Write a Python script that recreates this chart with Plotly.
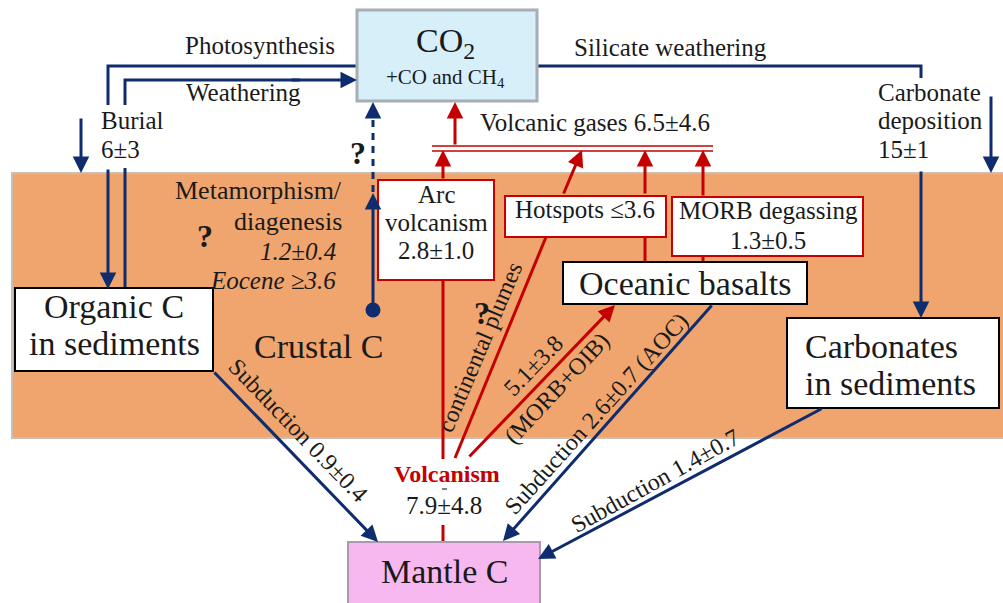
import plotly.graph_objects as go

# ---- diagram content (labels and flux values, Tg C / yr) ----
reservoirs = ["CO<sub>2</sub>", "+CO and CH<sub>4</sub>", "Organic C", "in sediments", "Crustal C",
              "Oceanic basalts", "Carbonates", "in sediments", "Mantle C"]
surface_fluxes = ["Photosynthesis", "Weathering", "Burial", "Silicate weathering", "Carbonate", "deposition"]
surface_values = ["6±3", "15±1"]
volcanic_names = ["Volcanic gases", "Arc", "volcanism", "Hotspots", "MORB degassing", "Volcanism"]
volcanic_values = ["6.5±4.6", "2.8±1.0", "≤3.6", "1.3±0.5", "7.9±4.8", "5.1±3.8"]
subduction_values = ["0.9±0.4", "2.6±0.7", "1.4±0.7"]
metamorphism_values = ["1.2±0.4", "≥3.6"]

NAVY = "#0E2C6E"
RED = "#C40000"
ORANGE = "#F0A56E"
SERIF = "Liberation Serif, Times New Roman, serif"
TXT = "#1a1a1a"

fig = go.Figure()
shapes = []
ann = []


def rect(x0, y0, x1, y1, fill, line, w, layer="above"):
    shapes.append(dict(type="rect", x0=x0, y0=y0, x1=x1, y1=y1, fillcolor=fill,
                       line=dict(color=line, width=w), layer=layer, xref="x", yref="y"))


def seg(pts, color, w=3, dash="solid"):
    path = "M " + " L ".join(f"{x},{y}" for x, y in pts)
    shapes.append(dict(type="path", path=path, line=dict(color=color, width=w, dash=dash),
                       xref="x", yref="y", layer="above"))


def arrow(x0, y0, x1, y1, color, w=3, size=1.1):
    ann.append(dict(x=x1, y=y1, ax=x0, ay=y0, xref="x", yref="y", axref="x", ayref="y",
                    text="", showarrow=True, arrowhead=2, arrowsize=size, arrowwidth=w,
                    arrowcolor=color, standoff=0, startstandoff=0))


def text(x, y, s, size=25, color=TXT, anchor="center", angle=0, bold=False, italic=False):
    if bold:
        s = f"<b>{s}</b>"
    if italic:
        s = f"<i>{s}</i>"
    ann.append(dict(x=x, y=y, xref="x", yref="y", text=s, showarrow=False, xanchor=anchor,
                    yanchor="middle", textangle=angle,
                    font=dict(family=SERIF, size=size, color=color)))


# ---- crust band ----
rect(12, 173, 1010, 438, ORANGE, "#C9BFB6", 2, layer="below")

# ---- navy flux lines ----
seg([(357, 66), (108, 66), (108, 105)], NAVY)          # photosynthesis
arrow(108, 168, 108, 289, NAVY)                        # burial into organic C
seg([(125, 289), (125, 168)], NAVY)                    # weathering from organic C
seg([(125, 105), (125, 80), (300, 80)], NAVY)
arrow(290, 80, 357, 80, NAVY)
arrow(81, 117, 81, 173, NAVY)                          # left burial arrow
seg([(537, 66), (921, 66), (921, 78)], NAVY)           # silicate weathering
arrow(921, 170, 921, 318, NAVY)                        # carbonate deposition
arrow(991, 95, 991, 173, NAVY)                         # right deposition arrow
# metamorphism (solid + dashed)
arrow(373, 310, 373, 193, NAVY)
seg([(373, 192), (373, 112)], NAVY, w=3, dash="7px,6px")
arrow(373, 118, 373, 102, NAVY)
# subduction
arrow(213, 371, 378, 542, NAVY)
arrow(713, 304, 503, 541, NAVY)
arrow(823, 408, 538, 559, NAVY)

# ---- red volcanic lines ----
seg([(443, 542), (443, 525)], RED)
seg([(443, 459), (443, 280)], RED)
arrow(443, 180, 443, 150, RED)
arrow(455, 146, 455, 102, RED)
seg([(455, 458), (546, 237)], RED)                      # continental plumes
arrow(563, 195, 582, 150, RED)
seg([(645, 262), (645, 237)], RED)
arrow(645, 195, 645, 150, RED)
seg([(703, 262), (703, 256)], RED)
arrow(703, 197, 703, 150, RED)
arrow(468, 458, 615, 305, RED)                          # MORB+OIB
seg([(432, 146), (713, 146)], RED, w=1.5)
seg([(432, 151), (713, 151)], RED, w=1.5)
seg([(442, 489), (447, 489)], "#555555", w=1.5)        # small dash under "Volcanism"

# ---- boxes ----
rect(357, 10, 537, 101, "#D6EFF9", "#A7AEB4", 3)        # CO2
rect(15, 288, 213, 371, "white", "black", 2)            # organic C
rect(378, 180, 494, 280, "white", RED, 2)               # arc volcanism
rect(505, 196, 666, 237, "white", RED, 2)               # hotspots
rect(672, 197, 863, 256, "white", RED, 2)               # MORB degassing
rect(563, 262, 807, 304, "white", "black", 2)           # oceanic basalts
rect(787, 318, 999, 408, "white", "black", 2)           # carbonates
rect(348, 542, 540, 610, "#F7B8F0", "#A99AB0", 2)       # mantle

# ---- dot (crustal C source) ----
fig.add_trace(go.Scatter(x=[373], y=[310], mode="markers",
                         marker=dict(size=15, color=NAVY), hoverinfo="skip", showlegend=False))

# ---- text ----
text(445, 43, reservoirs[0], size=34)
text(445, 78, reservoirs[1], size=21)
text(114, 306, reservoirs[2], size=34)
text(114, 343, reservoirs[3], size=34)
text(318, 346, reservoirs[4], size=34)
text(685, 283, reservoirs[5], size=34)
text(803, 346, reservoirs[6], size=34, anchor="left")
text(803, 383, reservoirs[7], size=34, anchor="left")
text(444, 571, reservoirs[8], size=34)

text(260, 45, surface_fluxes[0])
text(243, 92, surface_fluxes[1])
text(99, 120, surface_fluxes[2], anchor="left")
text(99, 149, surface_values[0], anchor="left")
text(670, 47, surface_fluxes[3])
text(876, 92, surface_fluxes[4], anchor="left")
text(876, 120, surface_fluxes[5], anchor="left")
text(876, 149, surface_values[1], anchor="left")

text(478, 122, volcanic_names[0] + " " + volcanic_values[0], anchor="left")
text(436, 194, volcanic_names[1])
text(436, 222, volcanic_names[2])
text(436, 250, volcanic_values[1])
text(585, 209, volcanic_names[3] + " " + volcanic_values[2])
text(768, 210, volcanic_names[4])
text(768, 240, volcanic_values[3])
text(447, 474, volcanic_names[5], size=24, color=RED, bold=True)
text(444, 505, volcanic_values[4])

text(344, 190, "Metamorphism/", size=26, anchor="right")
text(344, 221, "diagenesis", size=26, anchor="right")
text(338, 251, metamorphism_values[0], anchor="right", italic=True)
text(338, 280, "Eocene " + metamorphism_values[1], anchor="right", italic=True)

text(358, 153, "?", size=32, bold=True)
text(205, 236, "?", size=32, bold=True)
text(482, 313, "?", size=32, bold=True)

text(480, 347, "continental plumes", size=24, angle=-67)
text(533, 366, volcanic_values[5], size=24, angle=-46)
text(557, 388, "(MORB+OIB)", size=24, angle=-47)
text(298, 430, "Subduction " + subduction_values[0], size=24, angle=46)
text(596, 414, "Subduction " + subduction_values[1] + " (AOC)", size=24, angle=-48)
text(655, 481, "Subduction " + subduction_values[2], size=24, angle=-29)

fig.update_layout(
    width=1003, height=603, autosize=False,
    margin=dict(l=0, r=0, t=0, b=0),
    paper_bgcolor="white", plot_bgcolor="white",
    xaxis=dict(range=[0, 1003], visible=False, fixedrange=True),
    yaxis=dict(range=[603, 0], visible=False, fixedrange=True),
    shapes=shapes, annotations=ann, showlegend=False,
)

fig.write_html("out.html", config={"displayModeBar": False},
               post_script="document.body.style.margin='0';")
